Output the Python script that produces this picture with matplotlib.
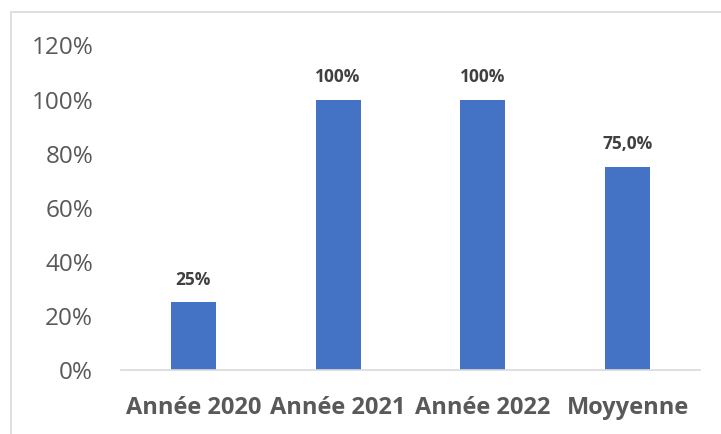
import matplotlib
matplotlib.use("Agg")
import matplotlib.pyplot as plt
from matplotlib.patches import Rectangle
from matplotlib.ticker import FuncFormatter

categories = ["Année 2020", "Année 2021", "Année 2022", "Moyyenne"]
values = [25, 100, 100, 75]
value_labels = ["25%", "100%", "100%", "75,0%"]
yticks = [0, 20, 40, 60, 80, 100, 120]

W, H = 721, 434
fig = plt.figure(figsize=(W / 100, H / 100), dpi=100)
plt.rcParams['font.family'] = ['Open Sans', 'DejaVu Sans']

# chart border (cut off at right and bottom)
fig.patches.append(Rectangle((11 / W, -0.1), 1.2, (H - 12) / H + 0.1,
                             transform=fig.transFigure, fill=False,
                             edgecolor='#d9d9d9', linewidth=1.2))

ax = fig.add_axes([121 / W, 64 / H, (700 - 121) / W, (370 - 45.5) / H])
x = range(len(categories))
bars = ax.bar(x, values, width=0.31, color='#4472c4')
ax.set_ylim(0, 120)
ax.set_xlim(-0.5, len(categories) - 0.5)
ax.set_yticks(yticks)
ax.yaxis.set_major_formatter(FuncFormatter(lambda v, p: f"{int(v)}%"))
ax.set_xticks(list(x))
ax.set_xticklabels(categories, fontsize=17, fontweight='bold', color='#595959')
ax.tick_params(axis='y', length=0, labelsize=17.5, labelcolor='#595959', pad=20)
ax.tick_params(axis='x', length=0, pad=19)

for s in ['top', 'right', 'left']:
    ax.spines[s].set_visible(False)
ax.spines['bottom'].set_color('#d9d9d9')
ax.spines['bottom'].set_linewidth(1.2)

for b, lab in zip(bars, value_labels):
    ax.annotate(lab, (b.get_x() + b.get_width() / 2, b.get_height()),
                xytext=(0, 10), textcoords='offset points', ha='center',
                va='bottom', fontsize=12.5, fontweight='bold', color='#404040')

fig.savefig("out.png", dpi=100)
